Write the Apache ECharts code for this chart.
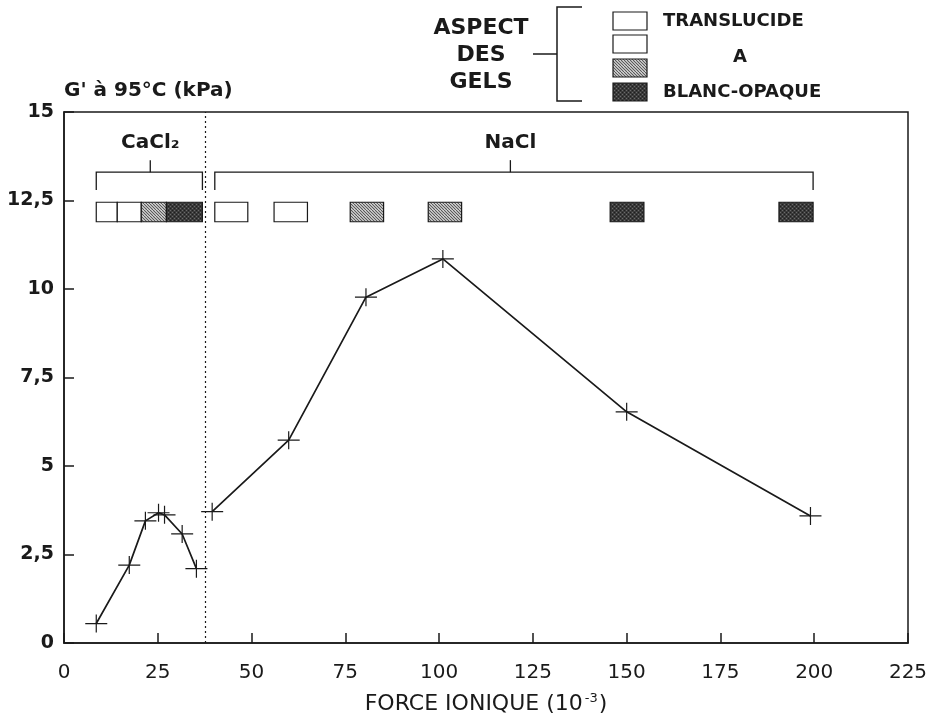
<!DOCTYPE html>
<html><head><meta charset="utf-8">
<script src="https://cdn.jsdelivr.net/npm/echarts@6/dist/echarts.min.js"></script>
<style>html,body{margin:0;padding:0;background:#fff}#c{width:929px;height:718px}</style>
</head><body><div id="c"></div>
<script>
// ---- data ----
const xTicks = [0, 25, 50, 75, 100, 125, 150, 175, 200, 225];
const yTicks = [0, 2.5, 5, 7.5, 10, 12.5, 15];
const cacl2X = [8.6, 17.4, 21.7, 25.2, 26.8, 31.5, 35.3];
const cacl2Y = [0.55, 2.2, 3.45, 3.68, 3.62, 3.08, 2.1];
const naclX = [39.5, 59.9, 80.5, 101, 150, 199];
const naclY = [3.71, 5.73, 9.77, 10.85, 6.53, 3.59];
const separatorX = 37.7;
// gel aspect boxes: start, end, type (t = translucide, h = intermediate, d = blanc-opaque)
const boxStart = [8.6, 14.2, 20.6, 27.3, 40.2, 56.0, 76.3, 97.1, 145.6, 190.6];
const boxEnd   = [14.2, 20.6, 27.3, 36.9, 49.0, 64.9, 85.2, 106.0, 154.6, 199.7];
const boxType  = ['t', 't', 'h', 'd', 't', 't', 'h', 'h', 'd', 'd'];
// groups (brackets): label, from, to, stem position
const groupLabel = ['CaCl₂', 'NaCl'];
const groupFrom = [8.6, 40.2];
const groupTo = [36.9, 199.7];
const groupStem = [23, 119];
const legendLabels = ['TRANSLUCIDE', 'A', 'BLANC-OPAQUE'];

// ---- patterns ----
function hatchPattern() {
  const c = document.createElement('canvas'); c.width = 6; c.height = 6;
  const g = c.getContext('2d');
  g.fillStyle = '#e8e8e8'; g.fillRect(0, 0, 6, 6);
  g.strokeStyle = '#555'; g.lineWidth = 1.1;
  g.beginPath();
  for (let k = -6; k <= 12; k += 3) { g.moveTo(k, 0); g.lineTo(k + 6, 6); }
  g.stroke();
  return c;
}
function darkPattern() {
  const c = document.createElement('canvas'); c.width = 4; c.height = 4;
  const g = c.getContext('2d');
  g.fillStyle = '#3a3a3a'; g.fillRect(0, 0, 4, 4);
  g.fillStyle = '#6a6a6a'; g.fillRect(0, 0, 1, 1); g.fillRect(2, 2, 1, 1);
  g.fillStyle = '#1e1e1e'; g.fillRect(2, 0, 1, 1); g.fillRect(0, 2, 1, 1);
  return c;
}
const fills = {
  t: '#ffffff',
  h: { image: hatchPattern(), repeat: 'repeat' },
  d: { image: darkPattern(), repeat: 'repeat' }
};

const INK = '#1a1a1a';
const FONT = 'DejaVu Sans';
const crossPath = 'path://M0,8.4 H22 V9.6 H0 Z M10.4,0 H11.6 V18 H10.4 Z';

const chart = echarts.init(document.getElementById('c'), null, { renderer: 'canvas' });

const boxData = boxStart.map((s, i) => [s, boxEnd[i], i]);
const groupData = groupLabel.map((l, i) => [groupFrom[i], groupTo[i], groupStem[i], i]);

const option = {
  backgroundColor: '#ffffff',
  animation: false,
  grid: { left: 64, right: 21, top: 112, bottom: 75, containLabel: false, outerBoundsMode: 'none',
    show: true, borderColor: INK, borderWidth: 1.5, backgroundColor: 'transparent' },
  xAxis: {
    type: 'value', min: xTicks[0], max: xTicks[xTicks.length - 1], interval: 25,
    axisLine: { show: true, onZero: false, lineStyle: { color: INK, width: 1.5 } },
    axisTick: { show: true, inside: true, length: 10, lineStyle: { color: INK, width: 1.5 } },
    splitLine: { show: false },
    axisLabel: { color: INK, fontFamily: FONT, fontSize: 20, margin: 20 },
    name: '{n|FORCE IONIQUE (10}{s|-3}{n|)}',
    nameLocation: 'middle', nameGap: 49,
    nameTextStyle: {
      rich: {
        n: { fontFamily: FONT, fontSize: 22, color: INK },
        s: { fontFamily: FONT, fontSize: 13, color: INK, verticalAlign: 'top', padding: [0, 1, 12, 2] }
      }
    }
  },
  yAxis: {
    type: 'value', min: yTicks[0], max: yTicks[yTicks.length - 1], interval: 2.5,
    axisLine: { show: true, onZero: false, lineStyle: { color: INK, width: 1.5 } },
    axisTick: { show: true, inside: true, length: 10, lineStyle: { color: INK, width: 1.5 } },
    splitLine: { show: false },
    axisLabel: { color: INK, fontFamily: FONT, fontWeight: 'bold', fontSize: 19, margin: 10,
      formatter: v => String(v).replace('.', ',') },
    name: "G' à 95°C (kPa)",
    nameLocation: 'end', nameGap: 11,
    nameTextStyle: { color: INK, fontFamily: FONT, fontWeight: 'bold', fontSize: 20, align: 'left', verticalAlign: 'bottom' }
  },
  series: [
    {
      type: 'line', name: 'CaCl2', data: cacl2X.map((x, i) => [x, cacl2Y[i]]),
      lineStyle: { color: INK, width: 1.7 }, itemStyle: { color: INK },
      symbol: crossPath, symbolSize: [22, 18], showSymbol: true,
      markLine: {
        silent: true, symbol: 'none', label: { show: false },
        lineStyle: { color: INK, type: [2, 3], width: 1.2 },
        data: [{ xAxis: separatorX }]
      }
    },
    {
      type: 'line', name: 'NaCl', data: naclX.map((x, i) => [x, naclY[i]]),
      lineStyle: { color: INK, width: 1.7 }, itemStyle: { color: INK },
      symbol: crossPath, symbolSize: [22, 18], showSymbol: true
    },
    {
      type: 'custom', name: 'boxes', data: boxData,
      renderItem: function (params, api) {
        const i = api.value(2);
        const p0 = api.coord([api.value(0), 12.45]);
        const p1 = api.coord([api.value(1), 11.9]);
        return {
          type: 'rect',
          shape: { x: p0[0], y: p0[1], width: p1[0] - p0[0], height: p1[1] - p0[1] },
          style: { fill: fills[boxType[i]], stroke: INK, lineWidth: 1.2 }
        };
      }
    },
    {
      type: 'custom', name: 'groups', data: groupData,
      renderItem: function (params, api) {
        const i = api.value(3);
        const a = api.coord([api.value(0), 13.3]);
        const b = api.coord([api.value(1), 13.3]);
        const aD = api.coord([api.value(0), 12.8]);
        const bD = api.coord([api.value(1), 12.8]);
        const s = api.coord([api.value(2), 13.3]);
        const sT = api.coord([api.value(2), 13.64]);
        const lt = api.coord([api.value(2), 14.12]);
        return {
          type: 'group',
          children: [
            { type: 'polyline', shape: { points: [aD, a, b, bD] }, style: { stroke: INK, lineWidth: 1.3, fill: null } },
            { type: 'line', shape: { x1: s[0], y1: s[1], x2: sT[0], y2: sT[1] }, style: { stroke: INK, lineWidth: 1.3 } },
            { type: 'text', x: lt[0], y: lt[1], style: { text: groupLabel[i], fill: INK, font: 'bold 20px "DejaVu Sans"', align: 'center', verticalAlign: 'middle' } }
          ]
        };
      }
    }
  ],
  graphic: [
    { type: 'text', x: 481, y: 28, style: { text: 'ASPECT', fill: INK, font: 'bold 22px "DejaVu Sans"', align: 'center', verticalAlign: 'middle' } },
    { type: 'text', x: 481, y: 55, style: { text: 'DES', fill: INK, font: 'bold 22px "DejaVu Sans"', align: 'center', verticalAlign: 'middle' } },
    { type: 'text', x: 481, y: 82, style: { text: 'GELS', fill: INK, font: 'bold 22px "DejaVu Sans"', align: 'center', verticalAlign: 'middle' } },
    { type: 'polyline', shape: { points: [[582, 7], [557, 7], [557, 101], [582, 101]] }, style: { stroke: INK, lineWidth: 1.5, fill: null } },
    { type: 'line', shape: { x1: 533, y1: 54, x2: 557, y2: 54 }, style: { stroke: INK, lineWidth: 1.5 } },
    { type: 'rect', shape: { x: 613, y: 12, width: 34, height: 18 }, style: { fill: fills.t, stroke: INK, lineWidth: 1.2 } },
    { type: 'rect', shape: { x: 613, y: 35, width: 34, height: 18 }, style: { fill: fills.t, stroke: INK, lineWidth: 1.2 } },
    { type: 'rect', shape: { x: 613, y: 59, width: 34, height: 18 }, style: { fill: fills.h, stroke: INK, lineWidth: 1.2 } },
    { type: 'rect', shape: { x: 613, y: 83, width: 34, height: 18 }, style: { fill: fills.d, stroke: INK, lineWidth: 1.2 } },
    { type: 'text', x: 663, y: 21, style: { text: legendLabels[0], fill: INK, font: 'bold 18px "DejaVu Sans"', align: 'left', verticalAlign: 'middle' } },
    { type: 'text', x: 740, y: 57, style: { text: legendLabels[1], fill: INK, font: 'bold 18px "DejaVu Sans"', align: 'center', verticalAlign: 'middle' } },
    { type: 'text', x: 663, y: 92, style: { text: legendLabels[2], fill: INK, font: 'bold 18px "DejaVu Sans"', align: 'left', verticalAlign: 'middle' } }
  ]
};
chart.setOption(option);
</script>
</body></html>
